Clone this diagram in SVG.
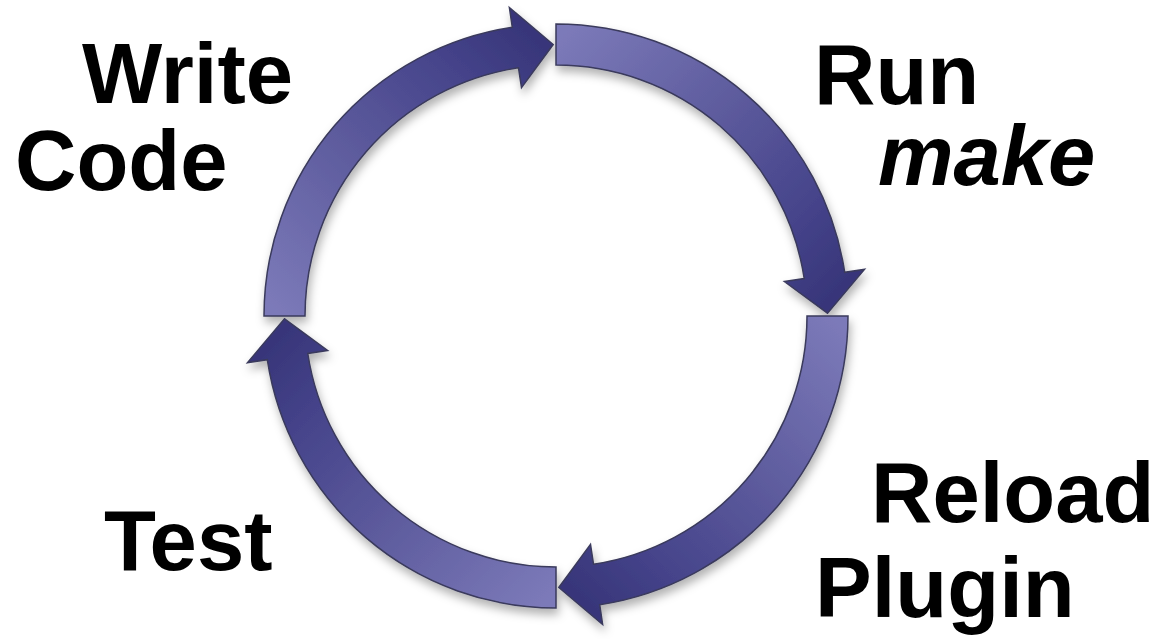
<svg xmlns="http://www.w3.org/2000/svg" width="1174" height="639" viewBox="0 0 1174 639">
  <style>
    .lbl { font-family: "Liberation Sans", Arial, Helvetica, sans-serif; font-weight: bold; font-size: 85px; fill: #000; }
    .it { font-style: italic; }
    .arrow { fill: url(#arcGrad); stroke: #3a3a5c; stroke-width: 1.5; stroke-linejoin: miter; }
  </style>
  <defs>
    <linearGradient id="arcGrad" gradientUnits="userSpaceOnUse" x1="285" y1="320" x2="545" y2="50">
      <stop offset="0" stop-color="#7c7ab9"/>
      <stop offset="0.45" stop-color="#5d5b9d"/>
      <stop offset="0.8" stop-color="#45438a"/>
      <stop offset="1" stop-color="#38367a"/>
    </linearGradient>
    <filter id="shadow" x="-20%" y="-20%" width="140%" height="140%">
      <feDropShadow dx="2" dy="6" stdDeviation="5" flood-color="#000" flood-opacity="0.3"/>
    </filter>
    <path id="arc" class="arrow" d="M 264 316 A 292 292 0 0 1 512.3 27.3 L 509.4 7.5 L 553.2 44.5 L 521.5 87.6 L 518.5 67.8 A 251 251 0 0 0 305 316 Z"/>
  </defs>
  <rect width="1174" height="639" fill="#ffffff"/>
  <g id="connectors" filter="url(#shadow)">
    <use id="arrow-write-run" href="#arc"/>
    <use id="arrow-run-reload" href="#arc" transform="rotate(90 556 316)"/>
    <use id="arrow-reload-test" href="#arc" transform="rotate(180 556 316)"/>
    <use id="arrow-test-write" href="#arc" transform="rotate(270 556 316)"/>
  </g>
  <g id="node-write-code">
    <text class="lbl" x="82" y="103">Write</text>
    <text class="lbl" x="15" y="190">Code</text>
  </g>
  <g id="node-run-make">
    <text class="lbl" x="814" y="104">Run</text>
    <text class="lbl it" x="878" y="185">make</text>
  </g>
  <g id="node-reload-plugin">
    <text class="lbl" x="871" y="522">Reload</text>
    <text class="lbl" x="815" y="617">Plugin</text>
  </g>
  <g id="node-test">
    <text class="lbl" x="104" y="570">Test</text>
  </g>
</svg>
